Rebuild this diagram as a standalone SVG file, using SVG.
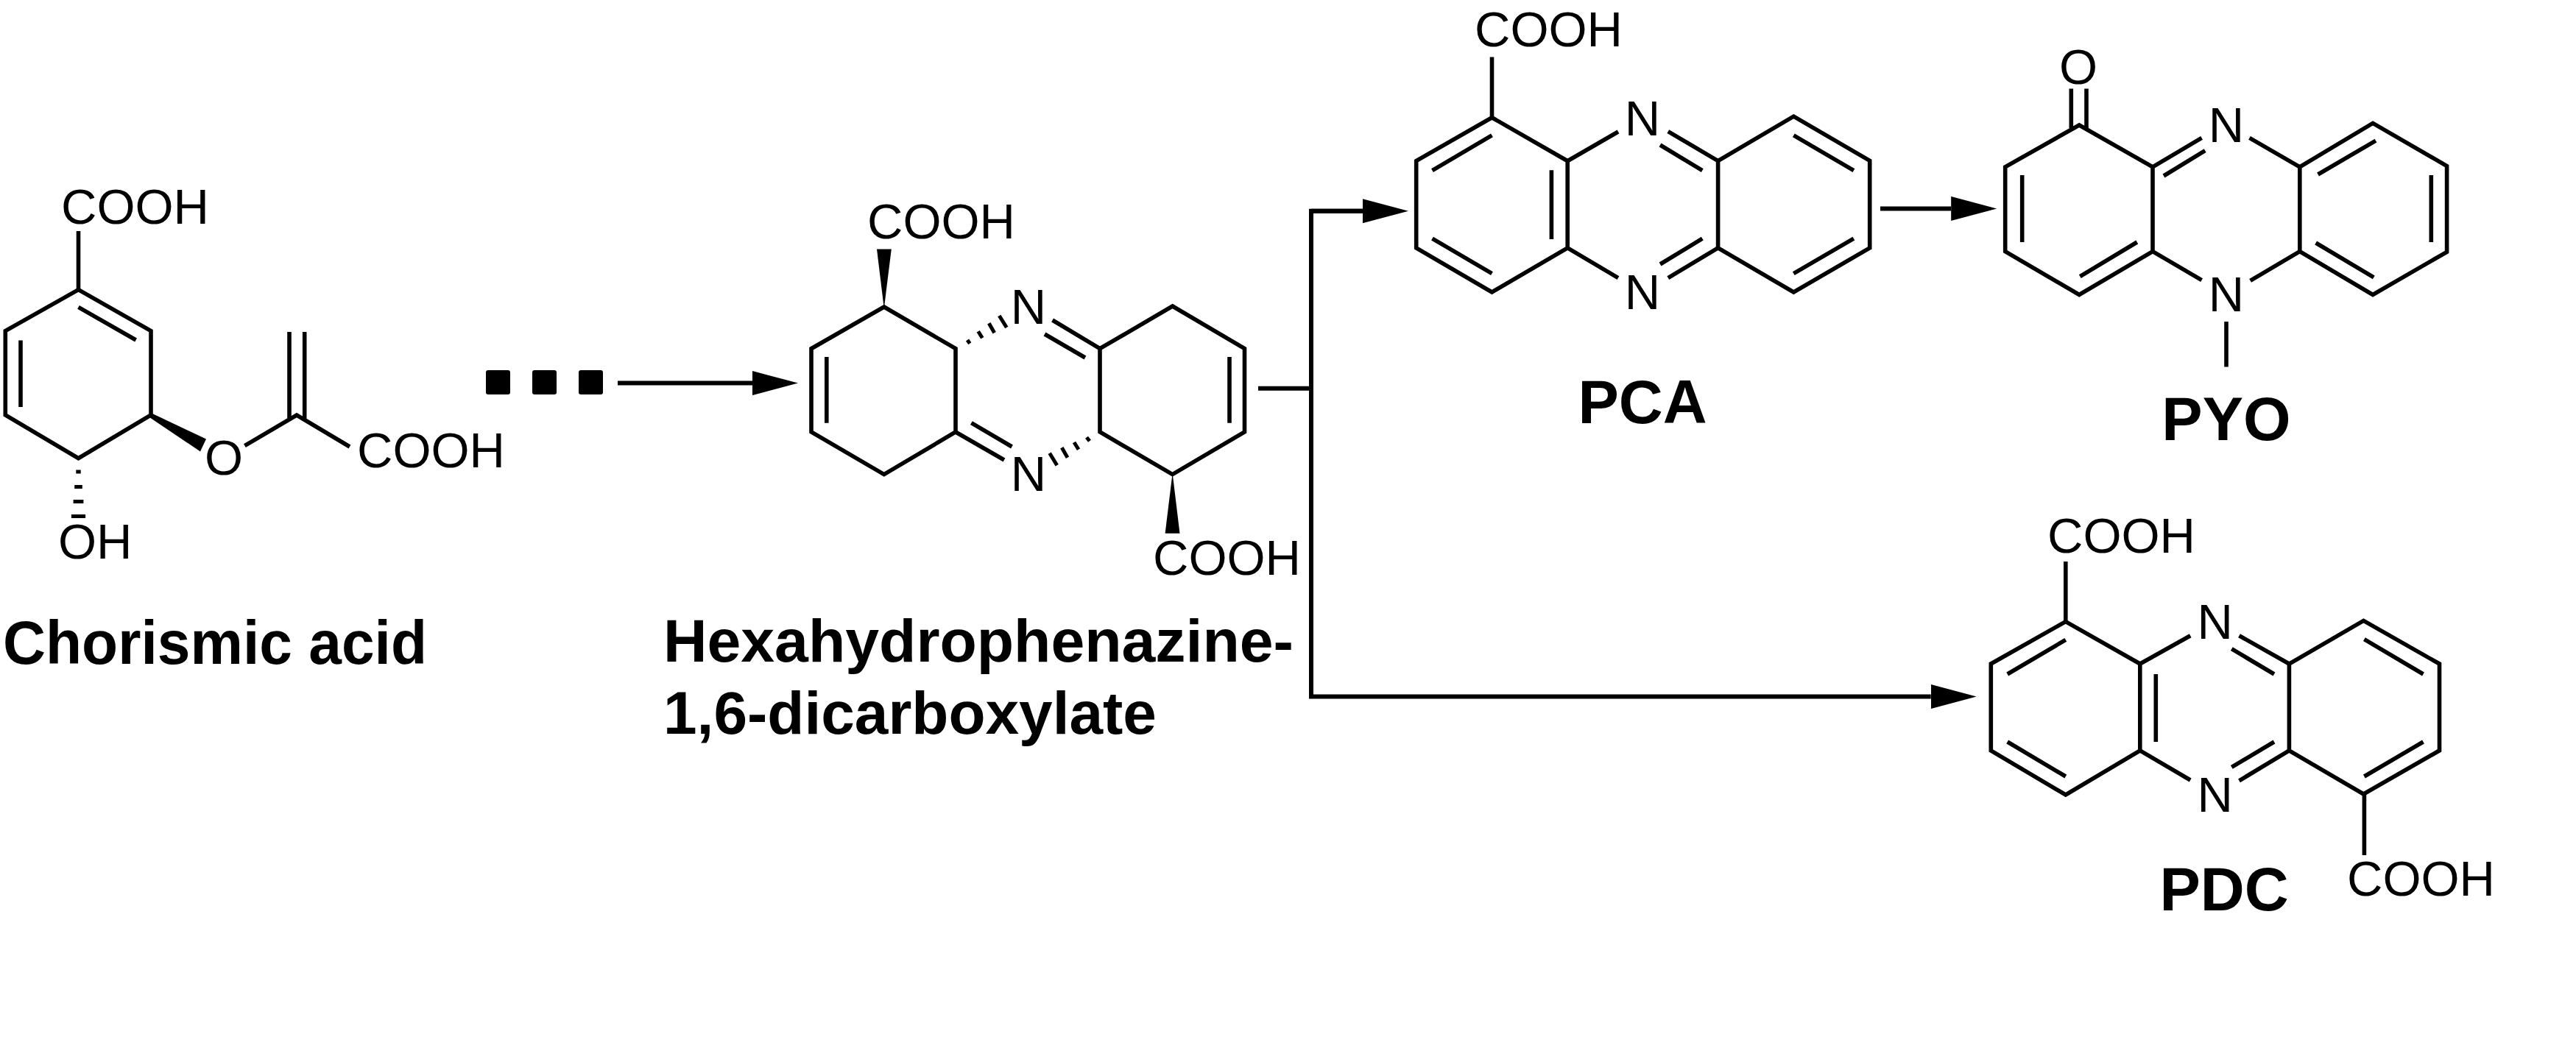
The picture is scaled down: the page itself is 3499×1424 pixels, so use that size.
<svg xmlns="http://www.w3.org/2000/svg" width="3499" height="1424" viewBox="0 0 3499 1424">
<style>
.b{fill:none;stroke:#000;stroke-width:5.6;stroke-linejoin:miter}
.h{fill:none;stroke:#000;stroke-width:5}
.c{fill:none;stroke:#000;stroke-width:6;stroke-linejoin:miter}
.f{fill:#000}
text{font-family:"Liberation Sans",Arial,sans-serif;fill:#000}
.a{font-size:67px}
.l{font-size:83px;font-weight:bold}
.k{font-size:82px;font-weight:bold}
.m{text-anchor:middle}
</style>
<defs>
<marker id="ah" markerUnits="userSpaceOnUse" markerWidth="63" markerHeight="33" refX="0" refY="16.5" orient="auto"><path d="M0,0L62,16.5L0,33Z" fill="#000"/></marker>
</defs>
<rect width="3499" height="1424" fill="#fff"/>
<g id="connectors">
<rect class="f" x="660" y="503" width="33" height="33" rx="3"/>
<rect class="f" x="723" y="503" width="33" height="33" rx="3"/>
<rect class="f" x="786" y="503" width="33" height="33" rx="3"/>
<path class="c" d="M839,520.6H1022" marker-end="url(#ah)"/>
<path class="c" d="M1709,527.8H1781"/>
<path class="c" d="M1851,286.7H1781V946.5H2622.7" marker-end="url(#ah)"/>
<path class="c" d="M1781,286.7H1851" marker-end="url(#ah)"/>
<path class="c" d="M2554,283.4H2650.2" marker-end="url(#ah)"/>
</g>
<g id="chorismic-acid">
<polygon class="b" points="106.5,393.6 205,449.6 205,564 106.5,622.7 7.3,564 7.3,449.6"/>
<path class="b" d="M106.5,417.4L184.6,462M28,462.4V553M106.5,314V393.6"/>
<polygon class="f" points="205,561 280,596.5 272,613.5 203,567"/>
<path class="b" d="M332.4,605.7L403,564L475,607M393,451V568M413.7,451V570"/>
<path class="f" d="M103.3,638.5h6.4v5h-6.4zM101.2,659h10.6v5h-10.6zM99.6,679h13.8v5h-13.8zM96.9,699h19.2v5h-19.2z"/>
<text class="a" x="83" y="304">COOH</text>
<text class="a" x="278" y="645">O</text>
<text class="a" x="485" y="635">COOH</text>
<text class="a" x="79" y="759">OH</text>
<text class="l" x="4" y="902" textLength="576" lengthAdjust="spacingAndGlyphs">Chorismic acid</text>
</g>
<g id="hexahydrophenazine">
<polygon class="b" points="1200.8,417 1298,473.7 1298,587 1200.8,644.6 1102,587 1102,473.7"/>
<polygon class="b" points="1592.6,416 1690.5,473.7 1690.5,587 1592.6,644.6 1494,587 1494,473.7"/>
<path class="b" d="M1122.8,485V574.7M1670,485V574.7M1429.6,435L1494,473.7M1419,454L1474,486M1298,587L1364,625M1319.4,574.7L1374.5,607"/>
<polygon class="f" points="1200.8,419 1191,338.5 1210.8,338.5"/>
<polygon class="f" points="1592.6,643 1582.6,724.7 1602.5,724.7"/>
<path class="h" d="M1357.3,429L1367.3,445M1343.3,439.3L1350.7,452.3M1328.7,450.3L1334.3,459.3M1314,462L1317.3,466.7"/>
<path class="h" d="M1476,594.3L1480,599.3M1459,601L1465,610.7M1442.3,608.3L1450,621.7M1425.7,615.7L1435.7,632.3"/>
<text class="a m" x="1397" y="440">N</text>
<text class="a m" x="1397" y="667">N</text>
<text class="a" x="1178" y="324">COOH</text>
<text class="a" x="1566" y="781">COOH</text>
<text class="k" x="901" y="899" textLength="856" lengthAdjust="spacingAndGlyphs">Hexahydrophenazine-</text>
<text class="k" x="901" y="997">1,6-dicarboxylate</text>
</g>
<g id="pca">
<polygon class="b" points="2026.5,159.7 2129.2,218.7 2129.2,336.9 2026.5,397 1923.7,336.9 1923.7,218.5"/>
<polygon class="b" points="2436.3,158.2 2539.7,218.3 2539.7,336.9 2436.3,397 2333.6,336.9 2333.6,218.7"/>
<path class="b" d="M2026.5,77.5V159.7M2026.5,183.9L1945.5,231.7M2107.4,231.3V325M1945.5,324.2L2026.5,371.7M2129.2,218.7L2198,179M2265.8,178.7L2333.6,218.7M2255,197L2312.3,231.7M2436.3,183.9L2517.9,231.7M2517.9,324.2L2436.3,371.7M2129.2,336.9L2198,377.6M2265.8,377.6L2333.6,336.9M2255,359L2312.3,324.2"/>
<text class="a m" x="2231" y="184">N</text>
<text class="a m" x="2231" y="420">N</text>
<text class="a" x="2003" y="63">COOH</text>
<text class="l m" x="2231" y="575">PCA</text>
</g>
<g id="pyo">
<polygon class="b" points="2824.2,170 2924,226.8 2924,341.6 2824.2,400.5 2723.7,341.6 2723.7,226.8"/>
<polygon class="b" points="3223,167.4 3323.6,225.6 3323.6,342.3 3223,400.5 3123.8,341.6 3123.8,226.8"/>
<path class="b" d="M2746.7,237.9V329M2902.8,329L2825.3,375.6M2813.3,120.4V174M2834,120.4V174M2924,226.8L2990.6,187.3M2939,239L2995.2,204.6M3055.5,187.3L3123.8,226.8M2924,341.6L2990.6,380.6M3056.6,381.4L3123.8,341.6M3227,191.2L3148.5,237M3302.3,237.9V329M3224.3,376.8L3145.6,330M3024,436.9V498.5"/>
<text class="a m" x="2823" y="114">O</text>
<text class="a m" x="3024" y="193">N</text>
<text class="a m" x="3024" y="423">N</text>
<text class="l m" x="3024" y="598">PYO</text>
</g>
<g id="pdc">
<polygon class="b" points="2805.8,844.6 2906.8,902 2906.8,1019.8 2805.8,1080 2704.3,1019.8 2704.3,902"/>
<polygon class="b" points="3210.4,843.4 3313.5,902 3313.5,1019.8 3210.4,1079 3109.4,1019.8 3109.4,902"/>
<path class="b" d="M2805.8,763V844.6M2805.8,869.4L2726.7,916M2928.3,916V1008M2726.7,1008L2805.8,1055M2906.8,902L2975.2,863.7M3041.5,863.7L3109.4,902M3031.3,881.7L3089,916M2906.8,1019.8L2975.2,1060M3041.5,1060.8L3109.4,1019.8M3031.3,1042.4L3089,1008M3211.4,868.7L3291.5,916M3291.5,1008L3211.4,1055M3211.4,1079V1162"/>
<text class="a m" x="3008.6" y="868">N</text>
<text class="a m" x="3008.6" y="1103">N</text>
<text class="a" x="2781" y="751">COOH</text>
<text class="a" x="3188" y="1217">COOH</text>
<text class="l m" x="3021" y="1237">PDC</text>
</g>
</svg>
